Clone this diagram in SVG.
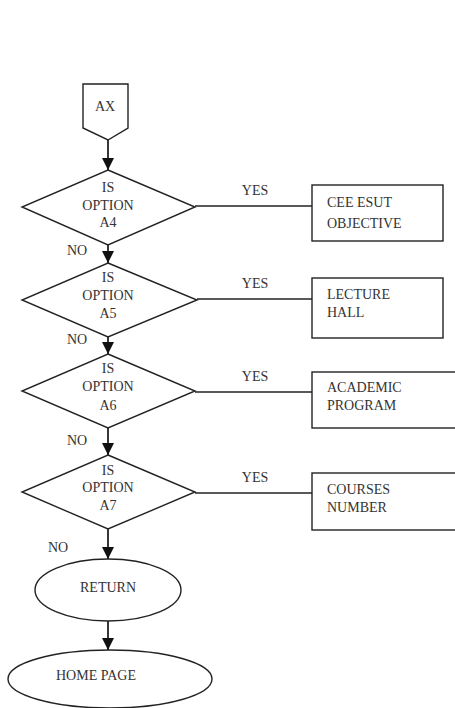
<svg xmlns="http://www.w3.org/2000/svg" width="455" height="708" viewBox="0 0 455 708">
  <defs>
    <marker id="arrow" viewBox="0 0 12 12" refX="12" refY="6" markerWidth="12" markerHeight="12" markerUnits="userSpaceOnUse" orient="auto">
      <path d="M0,0 L12,6 L0,12 z" fill="#111"/>
    </marker>
    <style>
      .shape { fill: #fff; stroke: #222; stroke-width: 1.4; }
      .line { fill: none; stroke: #222; stroke-width: 1.6; }
      .flow { fill: none; stroke: #222; stroke-width: 1.8; marker-end: url(#arrow); }
      text { font-family: "Liberation Serif", "Times New Roman", serif; font-size: 14px; fill: #333; }
      .c { text-anchor: middle; }
    </style>
  </defs>
  <rect width="455" height="708" fill="#fff"/>

  <!-- connectors -->
  <g id="connectors">
    <line class="flow" x1="108" y1="140" x2="108" y2="170"/>
    <line class="flow" x1="108" y1="245" x2="108" y2="263"/>
    <line class="flow" x1="108" y1="337" x2="108" y2="354"/>
    <line class="flow" x1="108" y1="428" x2="108" y2="455"/>
    <line class="flow" x1="108" y1="529" x2="108" y2="559"/>
    <line class="flow" x1="108" y1="621" x2="108" y2="650"/>
    <line class="line" x1="195" y1="206" x2="312" y2="206"/>
    <line class="line" x1="197" y1="299" x2="312" y2="299"/>
    <line class="line" x1="195" y1="392" x2="312" y2="392"/>
    <line class="line" x1="195" y1="493" x2="312" y2="493"/>
    <text class="c" x="255" y="195">YES</text>
    <text class="c" x="255" y="288">YES</text>
    <text class="c" x="255" y="381">YES</text>
    <text class="c" x="255" y="482">YES</text>
    <text x="67" y="255">NO</text>
    <text x="67" y="344">NO</text>
    <text x="67" y="445">NO</text>
    <text x="48" y="552">NO</text>
  </g>

  <!-- off-page connector -->
  <g id="ax">
    <polygon class="shape" points="83,84 128,84 128,128 108,140 83,128"/>
    <text class="c" x="105" y="111">AX</text>
  </g>

  <!-- decisions -->
  <g id="a4">
    <polygon class="shape" points="108,170 195,207 108,245 22,207"/>
    <text class="c" x="108" y="192">IS</text>
    <text class="c" x="108" y="209.5">OPTION</text>
    <text class="c" x="108" y="227">A4</text>
  </g>
  <g id="a5">
    <polygon class="shape" points="108,263 197,300 108,337 22,300"/>
    <text class="c" x="108" y="282">IS</text>
    <text class="c" x="108" y="300">OPTION</text>
    <text class="c" x="108" y="318">A5</text>
  </g>
  <g id="a6">
    <polygon class="shape" points="108,354 195,391 108,428 22,391"/>
    <text class="c" x="108" y="373">IS</text>
    <text class="c" x="108" y="391">OPTION</text>
    <text class="c" x="108" y="410">A6</text>
  </g>
  <g id="a7">
    <polygon class="shape" points="108,455 195,492 108,529 22,492"/>
    <text class="c" x="108" y="475">IS</text>
    <text class="c" x="108" y="492">OPTION</text>
    <text class="c" x="108" y="510">A7</text>
  </g>

  <!-- processes -->
  <g id="objective">
    <rect class="shape" x="312" y="185" width="131" height="56"/>
    <text x="327" y="207">CEE ESUT</text>
    <text x="327" y="228">OBJECTIVE</text>
  </g>
  <g id="lecture-hall">
    <rect class="shape" x="312" y="278" width="131" height="60"/>
    <text x="327" y="299">LECTURE</text>
    <text x="327" y="317">HALL</text>
  </g>
  <g id="academic-program">
    <rect class="shape" x="312" y="372" width="150" height="56"/>
    <text x="327" y="392">ACADEMIC</text>
    <text x="327" y="410">PROGRAM</text>
  </g>
  <g id="courses-number">
    <rect class="shape" x="312" y="473" width="150" height="57"/>
    <text x="327" y="494">COURSES</text>
    <text x="327" y="512">NUMBER</text>
  </g>

  <!-- terminals -->
  <g id="return">
    <ellipse class="shape" cx="108" cy="590" rx="73" ry="31"/>
    <text class="c" x="108" y="592">RETURN</text>
  </g>
  <g id="home-page">
    <ellipse class="shape" cx="110" cy="679" rx="102" ry="29"/>
    <text class="c" x="96" y="680">HOME PAGE</text>
  </g>
</svg>
